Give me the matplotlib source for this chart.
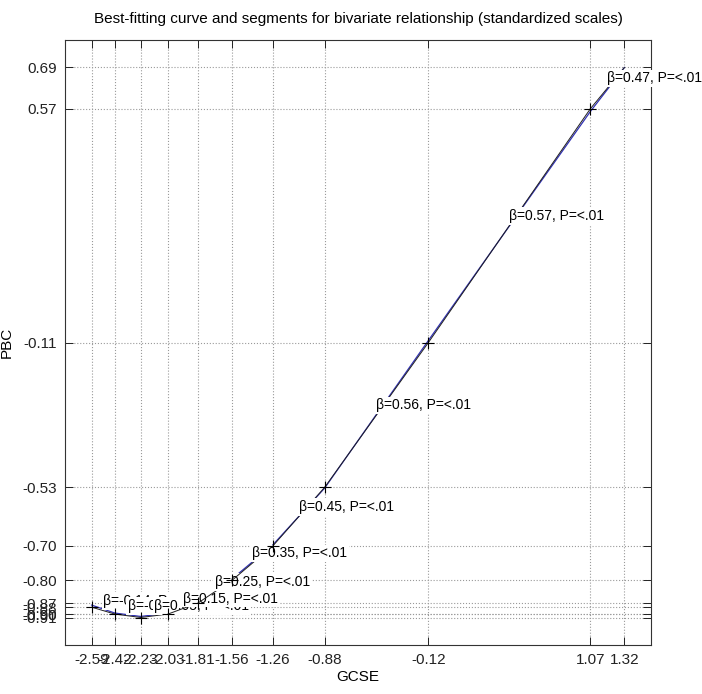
import matplotlib
matplotlib.use('Agg')
import matplotlib.pyplot as plt

plt.rcParams['font.family'] = ['Liberation Sans', 'DejaVu Sans']

# knot positions (GCSE) and fitted PBC value at each knot
knot_x = [-2.59, -2.42, -2.23, -2.03, -1.81, -1.56, -1.26, -0.88, -0.12, 1.07, 1.32]
knot_y = [-0.878, -0.898, -0.908, -0.898, -0.866, -0.80, -0.70, -0.53, -0.11, 0.57, 0.69]

# smooth best-fitting curve
curve_x = [-2.59, -2.42, -2.23, -2.03, -1.81, -1.56, -1.26, -0.88, -0.12, 1.07, 1.32]
curve_y = [-0.872, -0.895, -0.905, -0.895, -0.862, -0.796, -0.697, -0.532, -0.104, 0.562, 0.69]

# slope of each segment and its p label
betas = [-0.14, -0.05, 0.05, 0.15, 0.25, 0.35, 0.45, 0.56, 0.57, 0.47]
pvals = ['<.01'] * 10

fig = plt.figure(figsize=(7.02, 6.94), dpi=100)
ax = fig.add_axes([0.0926, 0.0706, 0.8348, 0.8718])

ax.plot(curve_x, curve_y, color='#3030b4', lw=0.9, zorder=3)

# segments drawn left to right, each label boxed in white over what came before
for i in range(len(betas)):
    x0, x1 = knot_x[i], knot_x[i + 1]
    y0, y1 = knot_y[i], knot_y[i + 1]
    ax.plot([x0, x1], [y0, y1], color='#202020', lw=0.7, zorder=3)
    ax.plot(x0, y0, color='black', marker='+', ms=8, mew=0.8, zorder=3)
    ax.annotate(f'β={betas[i]:.2f}, P={pvals[i]}', xy=((x0 + x1) / 2, (y0 + y1) / 2),
                xytext=(0, 2), textcoords='offset points',
                ha='left', va='bottom', fontsize=10, zorder=3,
                bbox=dict(facecolor='white', edgecolor='none', pad=1.2))

# axis limits: data range plus 5% on each side
xr = knot_x[-1] - knot_x[0]
yr = max(knot_y) - min(knot_y)
ax.set_xlim(knot_x[0] - 0.05 * xr, knot_x[-1] + 0.05 * xr)
ax.set_ylim(min(knot_y) - 0.05 * yr, max(knot_y) + 0.05 * yr)

ax.set_xticks(knot_x)
ax.set_xticklabels([f'{v:.2f}' for v in knot_x])
ax.set_yticks(sorted(knot_y))
ax.set_yticklabels([f'{v:.2f}' for v in sorted(knot_y)])

ax.tick_params(direction='in', length=6, width=0.7, top=True, right=True,
               labelsize=11, pad=6, colors='#222222')
ax.grid(True, linestyle=':', color='#9a9a9a', lw=0.8)
ax.set_axisbelow(True)
for s in ax.spines.values():
    s.set_color('#333333')
    s.set_linewidth(0.8)

ax.set_title('Best-fitting curve and segments for bivariate relationship (standardized scales)',
             fontsize=11, pad=12)
ax.set_xlabel('GCSE', fontsize=11, labelpad=2)
ax.set_ylabel('PBC', fontsize=11, labelpad=6)

plt.savefig('out.png', dpi=100)
plt.close()
